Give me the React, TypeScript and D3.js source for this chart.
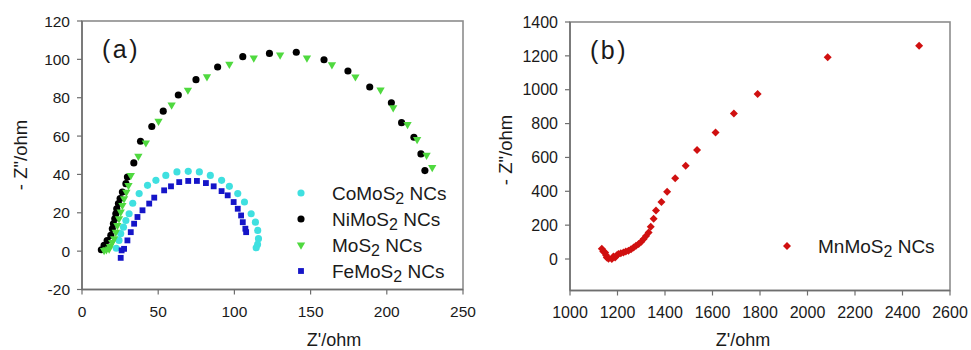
import React from "react";
import * as d3 from "d3";

// ---- Panel (a): Nyquist data, [Z' (ohm), -Z'' (ohm)]
const coMoS2: [number, number][] = [
  [22.5, 1.5], [24.3, 5.6], [25.4, 9.1], [27.2, 12.5], [28.8, 16], [30.9, 19.5],
  [33.3, 25], [37.5, 30], [43, 34.3], [48.5, 36.9], [55, 39.5], [62.3, 41.3],
  [69.7, 41.6], [77, 41.3], [84.2, 39.5], [91.6, 36.9], [96.7, 33.8], [102.2, 30],
  [106.6, 25.6], [111, 19.5], [113.8, 15.1], [115.3, 10.8], [115.8, 6.5], [115.2, 3.5], [114.3, 1.8],
];
const niMoS2: [number, number][] = [
  [12.7, 0.7], [14.5, 3], [16.5, 5.5], [18.9, 8.2], [19.9, 11.7], [20.6, 14.3],
  [21.5, 16.9], [22.2, 19.5], [22.8, 22.1], [23.9, 24.8], [25, 27.4], [26.5, 30.8],
  [28.8, 35.2], [29.8, 38.6], [34, 46], [38.4, 57.3], [45.8, 65], [53.3, 73],
  [63.2, 81.4], [74.8, 89.4], [89, 96], [105.5, 101.4], [123, 103.1], [140.6, 103.7],
  [158.8, 99.8], [174.5, 93.9], [188.8, 85.6], [203, 77.4], [209.7, 67], [217.8, 59.4],
  [222.4, 50.7], [225, 42],
];
const moS2: [number, number][] = [
  [14.5, 0.4], [16, 0.8], [17.8, 1.2], [18.4, 2.5], [19.8, 4.5], [21.1, 6.5],
  [22.2, 9.9], [23.2, 13.4], [24.3, 16.9], [25.4, 20.4], [26.5, 23.9], [27.6, 27.4],
  [29.1, 30.8], [30.5, 34.3], [32, 39.5], [37, 49.5], [41.9, 56.5], [50.2, 67.8],
  [58.8, 76.2], [69.5, 84], [82, 91], [96.7, 97.5], [112.7, 100.7], [130, 102.3],
  [147.6, 100.7], [164, 97.2], [179.4, 90.9], [195.9, 84.1], [204.2, 74.8], [213.6, 66.1],
  [219.9, 58.2], [226.1, 50], [229.8, 43.7],
];
const feMoS2: [number, number][] = [
  [25.4, -3.5], [26, 0.4], [27.6, 1.2], [29.8, 5.6], [32, 9.9], [34.2, 14.3],
  [36.4, 17.8], [39.7, 21.3], [44.1, 24.8], [47.4, 27.9], [53.9, 31.7], [58.4, 33.8],
  [63.8, 36], [69.7, 36.6], [75.4, 36.6], [81.3, 35.5], [86.4, 33.8], [91.6, 31.3],
  [95.6, 29.1], [99.5, 25.6], [102.2, 22.1], [104.4, 18.6], [105.5, 15.1], [107.2, 11.7],
  [107.7, 9.9],
];

// ---- Panel (b): MnMoS2 data
const mnMoS2: [number, number][] = [
  [1134, 60], [1140, 45], [1148, 38], [1152, 22], [1155, 9], [1162, 2], [1176, 0],
  [1183, 15], [1190, 9], [1197, 22], [1204, 29], [1214, 34], [1225, 39], [1235, 44],
  [1246, 49], [1257, 58], [1268, 68], [1278, 78], [1289, 88], [1300, 102], [1310, 118],
  [1320, 136], [1331, 157], [1340, 190], [1352, 238], [1362, 286], [1385, 337],
  [1409, 398], [1443, 477], [1487, 551], [1535, 644], [1613, 748], [1690, 860],
  [1790, 975], [2085, 1192], [2470, 1260],
];

const ticksAX = [0, 50, 100, 150, 200, 250];
const ticksAY = [-20, 0, 20, 40, 60, 80, 100, 120];
const ticksBX = [1000, 1200, 1400, 1600, 1800, 2000, 2200, 2400, 2600];
const ticksBY = [0, 200, 400, 600, 800, 1000, 1200, 1400];

const FONT = "'Liberation Sans', Arial, Helvetica, sans-serif";

type Series = {
  name: string;
  data: [number, number][];
  color: string;
  shape: "circle" | "triangleDown" | "square" | "diamond";
};

const seriesA: Series[] = [
  { name: "CoMoS", data: coMoS2, color: "#3fe0e0", shape: "circle" },
  { name: "NiMoS", data: niMoS2, color: "#000000", shape: "circle" },
  { name: "MoS", data: moS2, color: "#4fd93f", shape: "triangleDown" },
  { name: "FeMoS", data: feMoS2, color: "#1515c8", shape: "square" },
];
const seriesB: Series[] = [{ name: "MnMoS", data: mnMoS2, color: "#d01010", shape: "diamond" }];

function markerPath(shape: Series["shape"]): { d: string; rot: number } {
  switch (shape) {
    case "circle":
      return { d: d3.symbol(d3.symbolCircle, 40)()!, rot: 0 };
    case "triangleDown":
      return { d: d3.symbol(d3.symbolTriangle, 30)()!, rot: 180 };
    case "square":
      return { d: d3.symbol(d3.symbolSquare, 34)()!, rot: 0 };
    case "diamond":
      return { d: d3.symbol(d3.symbolSquare, 32)()!, rot: 45 };
  }
}

type PanelProps = {
  left: number;
  right: number;
  top: number;
  bottom: number;
  xDomain: [number, number];
  yDomain: [number, number];
  xTicks: number[];
  yTicks: number[];
  series: Series[];
  label: string;
  tickFont: number;
  xTitleX: number;
  yTitleX: number;
  yTitleY: number;
  legend: { x: number; y: number; dy: number };
};

function Panel(p: PanelProps) {
  const x = d3.scaleLinear().domain(p.xDomain).range([p.left, p.right]);
  const y = d3.scaleLinear().domain(p.yDomain).range([p.bottom, p.top]);
  const axisColor = "#6e6e6e";
  return (
    <g>
      {/* frame */}
      <rect
        x={p.left}
        y={p.top}
        width={p.right - p.left}
        height={p.bottom - p.top}
        fill="none"
        stroke="#8c8c8c"
        strokeWidth={1.6}
      />
      <line x1={p.left} x2={p.left} y1={p.top} y2={p.bottom} stroke={axisColor} strokeWidth={1.5} />
      <line x1={p.left} x2={p.right} y1={p.bottom} y2={p.bottom} stroke={axisColor} strokeWidth={1.5} />
      {/* x ticks */}
      {p.xTicks.map((t) => (
        <g key={"x" + t}>
          <line x1={x(t)} x2={x(t)} y1={p.bottom} y2={p.bottom + 5} stroke={axisColor} strokeWidth={1.2} />
          <text
            x={x(t)}
            y={p.bottom + 27}
            textAnchor="middle"
            fontFamily={FONT}
            fontSize={p.tickFont}
            fill="#1a1a1a"
          >
            {t}
          </text>
        </g>
      ))}
      {/* y ticks */}
      {p.yTicks.map((t) => (
        <g key={"y" + t}>
          <line x1={p.left - 5} x2={p.left} y1={y(t)} y2={y(t)} stroke={axisColor} strokeWidth={1.2} />
          <text
            x={p.left - 12}
            y={y(t)}
            dy="0.36em"
            textAnchor="end"
            fontFamily={FONT}
            fontSize={p.tickFont}
            fill="#1a1a1a"
          >
            {t}
          </text>
        </g>
      ))}
      {/* axis titles */}
      <text x={p.xTitleX} y={346} textAnchor="middle" fontFamily={FONT} fontSize={18} fill="#1a1a1a">
        Z'/ohm
      </text>
      <text
        transform={`translate(${p.yTitleX},${p.yTitleY}) rotate(-90)`}
        textAnchor="middle"
        fontFamily={FONT}
        fontSize={18.5}
        fill="#1a1a1a"
      >
        - Z"/ohm
      </text>
      {/* panel label */}
      <text x={p.left + 20} y={p.top + 37} fontFamily={FONT} fontSize={25} fill="#1a1a1a" letterSpacing={2.5}>
        {p.label}
      </text>
      {/* markers */}
      {p.series.map((s) => {
        const m = markerPath(s.shape);
        return (
          <g key={s.name} fill={s.color}>
            {s.data.map(([vx, vy], i) => (
              <path key={i} d={m.d} transform={`translate(${x(vx)},${y(vy)}) rotate(${m.rot})`} />
            ))}
          </g>
        );
      })}
      {/* legend */}
      {p.series.map((s, i) => {
        const m = markerPath(s.shape);
        const ly = p.legend.y + i * p.legend.dy;
        return (
          <g key={"lg" + s.name}>
            <path d={m.d} fill={s.color} transform={`translate(${p.legend.x},${ly}) rotate(${m.rot})`} />
            <text x={p.legend.x + 31} y={ly + 6.5} fontFamily={FONT} fontSize={19} fill="#1a1a1a">
              {s.name}
              <tspan fontSize={16} dy={4}>2</tspan>
              <tspan dy={-4}> NCs</tspan>
            </text>
          </g>
        );
      })}
    </g>
  );
}

export default function App() {
  return (
    <svg
      width={971}
      height={350}
      viewBox="0 0 971 350"
      style={{ position: "absolute", left: 0, top: 0, background: "#fff" }}
    >
      <rect width={971} height={350} fill="#fff" />
      <Panel
        left={82}
        right={463}
        top={21}
        bottom={289.5}
        xDomain={[0, 250]}
        yDomain={[-20, 120]}
        xTicks={ticksAX}
        yTicks={ticksAY}
        series={seriesA}
        label="(a)"
        tickFont={15.5}
        xTitleX={334}
        yTitleX={27}
        yTitleY={155}
        legend={{ x: 301, y: 193, dy: 26 }}
      />
      <Panel
        left={570}
        right={950}
        top={22}
        bottom={290.5}
        xDomain={[1000, 2600]}
        yDomain={[-186, 1400]}
        xTicks={ticksBX}
        yTicks={ticksBY}
        series={seriesB}
        label="(b)"
        tickFont={16}
        xTitleX={743}
        yTitleX={512}
        yTitleY={150}
        legend={{ x: 787, y: 246, dy: 0 }}
      />
    </svg>
  );
}
